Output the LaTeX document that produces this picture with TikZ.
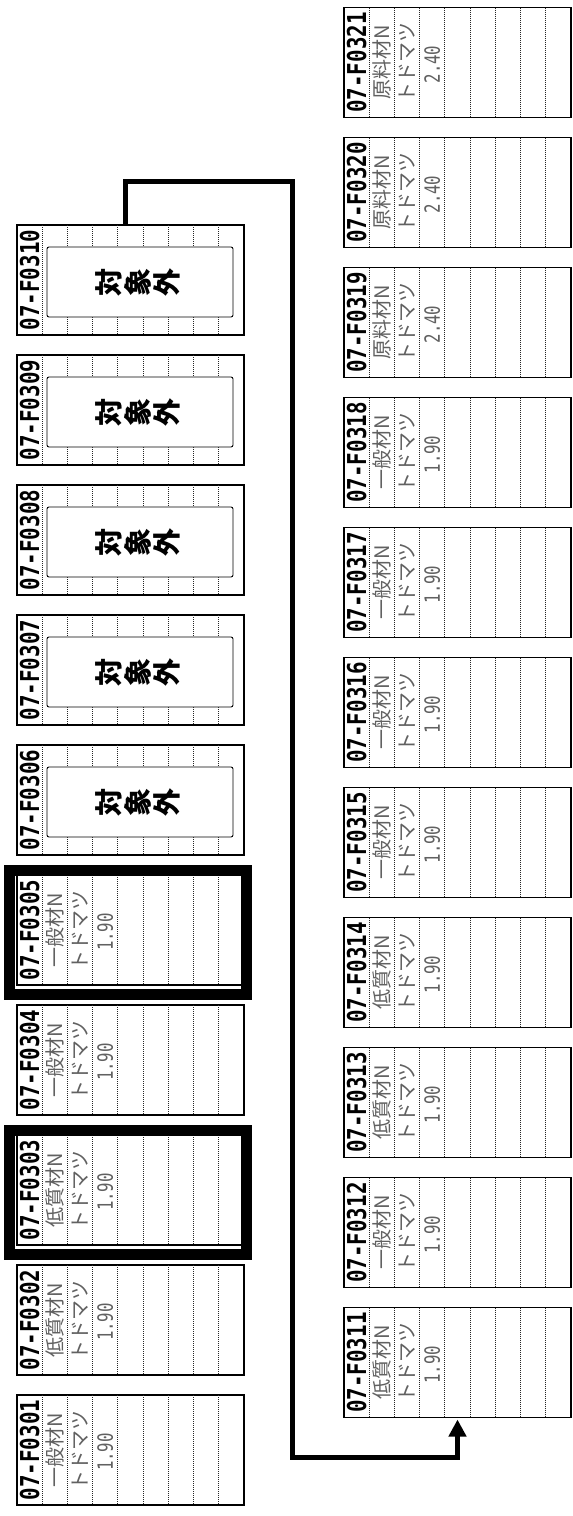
\documentclass[tikz,border=0pt]{standalone}
\usepackage{fontspec}
\newfontfamily\cjk{Noto Sans CJK JP}
\newfontfamily\hdr{DejaVu Sans Mono}
\usetikzlibrary{arrows.meta}
\newcommand{\mkcard}[6]{%
  \node[card] (#1) at (#2,#3) {};
  \foreach \j in {1,...,8}
    \draw[sepline] ([xshift=\j*25.22pt]#1.north west) -- ([xshift=\j*25.22pt]#1.south west);
  \node[hdrtxt] (#1h) at ([xshift=12.6pt]#1.west) {\scalebox{0.8}[1]{07-F#4}};
  \node[jtxt] (#1m) at ([xshift=37.8pt]#1.west) {#5};
  \node[jtxt] (#1s) at ([xshift=63pt]#1.west) {トドマツ};
  \node[numtxt] (#1v) at ([xshift=88.3pt,yshift=-2pt]#1.west) {\scalebox{0.75}[1]{#6}};
}
\newcommand{\mkex}[4]{%
  \node[card] (#1) at (#2,#3) {};
  \foreach \j in {1,...,8}
    \draw[sepline] ([xshift=\j*25.22pt]#1.north west) -- ([xshift=\j*25.22pt]#1.south west);
  \node[hdrtxt] (#1h) at ([xshift=12.6pt]#1.west) {\scalebox{0.8}[1]{07-F#4}};
  \node[exbox] (#1x) at ([shift={(9.5pt,-2pt)}]#1.center) {};
  \node[extxt] (#1t) at ([xshift=-2pt]#1x.center) {対\\象\\外};
}
\newcommand{\mkframe}[1]{%
  \draw[thickframe] ([shift={(-8pt,5pt)}]#1.north west) rectangle ([shift={(2pt,-9pt)}]#1.south east);
}
\begin{document}
\begin{tikzpicture}[x=1pt,y=1pt,
  card/.style={draw, line width=1.3pt, minimum width=227pt, minimum height=110pt, inner sep=0pt, outer sep=0pt, fill=white},
  sepline/.style={line width=1pt, dash pattern=on 1pt off 1pt, black!85},
  hdrtxt/.style={rotate=90, inner sep=0pt, font=\hdr\bfseries\fontsize{26}{26}\selectfont},
  jtxt/.style={rotate=90, inner sep=0pt, text=black!62, font=\cjk\fontsize{20}{20}\selectfont},
  numtxt/.style={rotate=90, inner sep=0pt, text=black!62, font=\hdr\fontsize{21}{21}\selectfont},
  exbox/.style={draw, fill=white, line width=0.9pt, rounded corners=2pt, minimum width=186pt, minimum height=70pt, inner sep=0pt},
  extxt/.style={rotate=90, align=center, inner sep=0pt, font=\cjk\bfseries\fontsize{28}{29}\selectfont},
  thickframe/.style={line width=11pt},
  conn/.style={line width=5pt, -{Triangle[width=17pt,length=17pt]}}
]
\useasboundingbox (0,0) rectangle (573,-1516);
% left column
\mkcard{c01}{130.5}{-1450}{0301}{一般材N}{1.90}
\mkcard{c02}{130.5}{-1320}{0302}{低質材N}{1.90}
\mkcard{c03}{130.5}{-1190}{0303}{低質材N}{1.90}
\mkcard{c04}{130.5}{-1060}{0304}{一般材N}{1.90}
\mkcard{c05}{130.5}{-930}{0305}{一般材N}{1.90}
\mkex{c06}{130.5}{-800}{0306}
\mkex{c07}{130.5}{-670}{0307}
\mkex{c08}{130.5}{-540}{0308}
\mkex{c09}{130.5}{-410}{0309}
\mkex{c10}{130.5}{-280}{0310}
\mkframe{c03}
\mkframe{c05}
% right column
\mkcard{c11}{457.5}{-1362.5}{0311}{低質材N}{1.90}
\mkcard{c12}{457.5}{-1232.5}{0312}{一般材N}{1.90}
\mkcard{c13}{457.5}{-1102.5}{0313}{低質材N}{1.90}
\mkcard{c14}{457.5}{-972.5}{0314}{低質材N}{1.90}
\mkcard{c15}{457.5}{-842.5}{0315}{一般材N}{1.90}
\mkcard{c16}{457.5}{-712.5}{0316}{一般材N}{1.90}
\mkcard{c17}{457.5}{-582.5}{0317}{一般材N}{1.90}
\mkcard{c18}{457.5}{-452.5}{0318}{一般材N}{1.90}
\mkcard{c19}{457.5}{-322.5}{0319}{原料材N}{2.40}
\mkcard{c20}{457.5}{-192.5}{0320}{原料材N}{2.40}
\mkcard{c21}{457.5}{-62.5}{0321}{原料材N}{2.40}
% connector
\coordinate (t1) at (292,-181);
\coordinate (t2) at (292,-1457);
\draw[conn] ([xshift=-5.5pt]c10.north) |- (t1) -- (t2) -| ([yshift=-2pt]c11.south);
\end{tikzpicture}
\end{document}
